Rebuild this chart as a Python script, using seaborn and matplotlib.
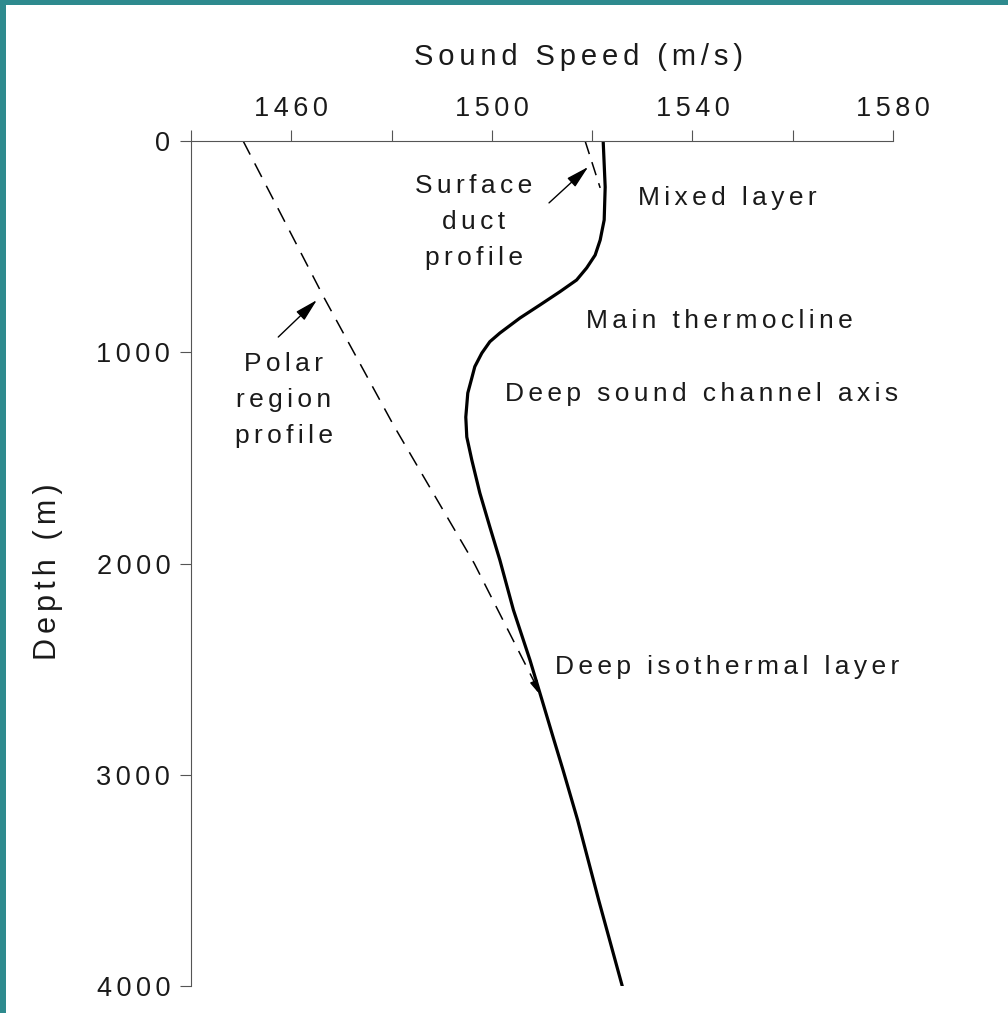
import matplotlib
matplotlib.use("Agg")
import matplotlib.pyplot as plt
from matplotlib.patches import Rectangle
import seaborn as sns

# Typical mid-latitude sound speed profile
typical_speed = [1522.2, 1522.6, 1522.4, 1522.0, 1521.6, 1520.6, 1518.9, 1516.9,
                 1513.6, 1509.6, 1505.6, 1501.6, 1499.6, 1498.0, 1496.6, 1496.0,
                 1495.2, 1494.8, 1495.0, 1496.0, 1497.6, 1499.6, 1501.6, 1504.3,
                 1507.6, 1510.0, 1512.2, 1514.2, 1517.1, 1521.3, 1526.0]
typical_depth = [0, 218, 374, 421, 469, 540, 601, 658,
                 713, 776, 838, 909, 950, 1004, 1068, 1122,
                 1193, 1307, 1401, 1510, 1666, 1827, 1984, 2220,
                 2457, 2646, 2821, 2978, 3214, 3593, 4000]

# Polar region profile
polar_speed = [1450.4, 1466.5, 1480.5, 1496.5, 1509.3]
polar_depth = [0, 740, 1350, 2000, 2600]

# Surface duct profile
duct_speed = [1518.6, 1521.6]
duct_depth = [0, 222]

speed_ticks = [1460, 1500, 1540, 1580]
speed_minor = [1440, 1480, 1520, 1560]
depth_ticks = [0, 1000, 2000, 3000, 4000]

SP = "\u2006"


def spaced(s):
    return "\n".join(SP.join(line) for line in s.split("\n"))


sns.set_theme(style="white")
plt.rcParams["font.family"] = ["Liberation Sans", "DejaVu Sans"]

fig = plt.figure(figsize=(10.08, 10.13), dpi=100)
fig.patch.set_facecolor("#2e8a8e")
fig.add_artist(Rectangle((6 / 1008, 0), 1, (1013 - 5) / 1013,
                         transform=fig.transFigure, facecolor="white",
                         edgecolor="none", zorder=0))

ax = fig.add_axes([191 / 1008, 1 - 986 / 1013, 702 / 1008, 845 / 1013])
ax.set_facecolor("white")

sns.lineplot(x=typical_speed, y=typical_depth, sort=False, estimator=None,
             color="black", linewidth=2.3, ax=ax)
sns.lineplot(x=polar_speed, y=polar_depth, sort=False, estimator=None,
             color="black", linewidth=1.1, linestyle=(0, (10, 6.5)), ax=ax)
sns.lineplot(x=duct_speed, y=duct_depth, sort=False, estimator=None,
             color="black", linewidth=1.1, linestyle=(0, (9, 5.5)), ax=ax)

ax.set_xlim(1440, 1580)
ax.set_ylim(4000, 0)

ax.xaxis.tick_top()
ax.xaxis.set_label_position("top")
ax.set_xticks(speed_ticks)
ax.set_xticks(speed_minor, minor=True)
ax.set_xticklabels([spaced(str(v)) for v in speed_ticks])
ax.set_yticks(depth_ticks)
ax.set_yticklabels([spaced(str(v)) for v in depth_ticks])

tick_color = "#555555"
ax.tick_params(axis="x", which="both", direction="out", length=8, width=0.8,
               color=tick_color, top=True, bottom=False, labeltop=True,
               labelbottom=False, labelsize=19.5, labelcolor="#1a1a1a", pad=6)
ax.tick_params(axis="y", which="both", direction="out", length=8, width=0.8,
               color=tick_color, left=True, labelsize=19.5, labelcolor="#1a1a1a", pad=7)

for side in ["right", "bottom"]:
    ax.spines[side].set_visible(False)
for side in ["left", "top"]:
    ax.spines[side].set_visible(True)
    ax.spines[side].set_color(tick_color)
    ax.spines[side].set_linewidth(0.8)

ax.set_xlabel(spaced("Sound Speed (m/s)"), fontsize=21, color="#1a1a1a")
ax.xaxis.set_label_coords((578 - 191) / 702, 1 + (141 - 57) / 845)
ax.xaxis.label.set_va("center")
ax.set_ylabel(spaced("Depth (m)"), fontsize=22, color="#1a1a1a")
ax.yaxis.set_label_coords((48 - 191) / 702, 0.49)
ax.yaxis.label.set_va("center")

txt = dict(fontsize=19, color="#1a1a1a")
ax.text(1529.1, 270, spaced("Mixed layer"), ha="left", va="center", **txt)
ax.text(1518.8, 852, spaced("Main thermocline"), ha="left", va="center", **txt)
ax.text(1502.6, 1198, spaced("Deep sound channel axis"), ha="left", va="center", **txt)
ax.text(1512.6, 2490, spaced("Deep isothermal layer"), ha="left", va="center", **txt)
ax.text(1496.4, 383, spaced("Surface\nduct\nprofile"), ha="center", va="center",
        multialignment="center", linespacing=1.62, **txt)
ax.text(1458.5, 1226, spaced("Polar\nregion\nprofile"), ha="center", va="center",
        multialignment="center", linespacing=1.62, **txt)

arrow = dict(arrowstyle="-|>,head_length=0.7,head_width=0.18", color="black",
             lw=1.0, shrinkA=0, shrinkB=0, mutation_scale=20)
ax.annotate("", xy=(1519.2, 123), xytext=(1511.4, 293), arrowprops=arrow)
ax.annotate("", xy=(1465.1, 753), xytext=(1457.4, 928), arrowprops=arrow)
ax.annotate("", xy=(1509.3, 2613), xytext=(1508.4, 2560),
            arrowprops=dict(arrowstyle="-|>,head_length=0.6,head_width=0.2",
                            color="black", lw=1.0, shrinkA=0, shrinkB=0,
                            mutation_scale=12))

fig.savefig("out.png", dpi=100, facecolor=fig.get_facecolor())
